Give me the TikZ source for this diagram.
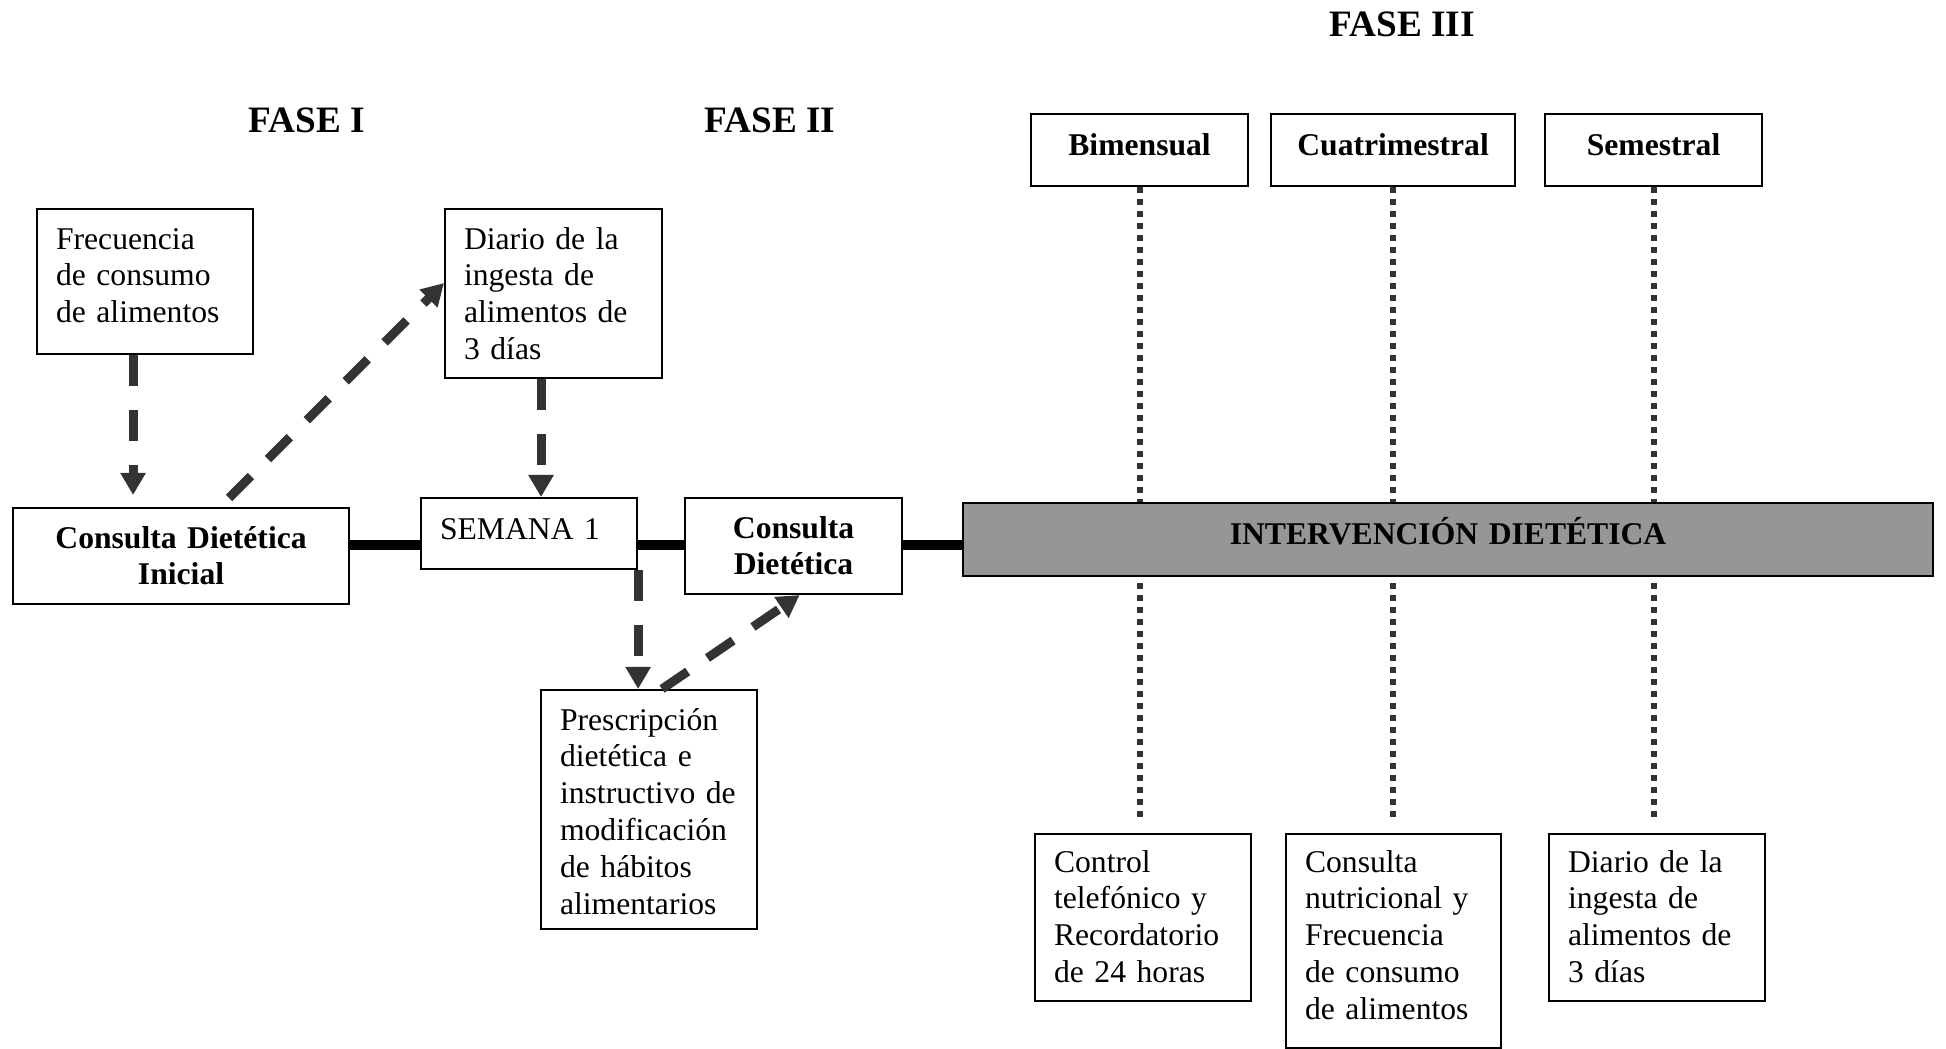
\documentclass[tikz,border=0pt]{standalone}
\usepackage{fontspec}
\setmainfont{Liberation Serif}
\usetikzlibrary{arrows.meta,positioning}

\definecolor{gris}{HTML}{333333}
\definecolor{barra}{HTML}{969696}

\tikzset{
  caja/.style={draw, line width=0.6pt, fill=white, anchor=north west, inner xsep=0.19cm, inner ysep=0pt,
    font=\fontsize{9}{10.5}\selectfont, align=left},
  cajanegrita/.style={caja, font=\fontsize{9}{10.5}\selectfont\bfseries, align=center},
  fase/.style={anchor=base, font=\fontsize{10.6}{12}\selectfont\bfseries},
  flecha/.style={draw=gris, line width=0.09cm, dash pattern=on 0.31cm off 0.24cm,
    -{Triangle[length=0.22cm, width=0.24cm]}},
  punteada/.style={draw=gris, line width=0.06cm, dash pattern=on 0.06cm off 0.06cm},
  linea/.style={draw=black, line width=0.105cm}
}

\begin{document}
\begin{tikzpicture}[scale=1]
  \useasboundingbox (0,0) rectangle (19.46,-10.49);

  \node[fase] (fase1) at (3.07,-1.33) {FASE I};
  \node[fase] (fase2) at (7.70,-1.33) {FASE II};
  \node[fase] (fase3) at (14.02,-0.37) {FASE III};

  \node[caja, text width=1.78cm, text height=0.40cm, text depth=1.05cm] (frec) at (0.36,-2.08)
    {Frecuencia\\de consumo\\de alimentos};
  \node[caja, text width=1.79cm, text height=0.40cm, text depth=1.29cm] (diario) at (4.44,-2.08)
    {Diario de la\\ingesta de\\alimentos de\\3 días};
  \node[cajanegrita, text width=2.98cm, text height=0.40cm, text depth=0.56cm] (inicial) at (0.12,-5.07)
    {Consulta Dietética\\Inicial};
  \node[caja, text width=1.78cm, text height=0.41cm, text depth=0.30cm] (semana) at (4.20,-4.97)
    {SEMANA 1};
  \node[cajanegrita, text width=1.79cm, text height=0.40cm, text depth=0.56cm] (consulta) at (6.84,-4.97)
    {Consulta\\Dietética};
  \node[caja, text width=1.78cm, text height=0.40cm, text depth=1.99cm] (presc) at (5.40,-6.89)
    {Prescripción\\dietética e\\instructivo de\\modificación\\de hábitos\\alimentarios};

  \node[cajanegrita, text width=1.79cm, text height=0.41cm, text depth=0.31cm] (bim) at (10.30,-1.13) {Bimensual};
  \node[cajanegrita, text width=2.06cm, text height=0.41cm, text depth=0.31cm] (cuatri) at (12.70,-1.13) {Cuatrimestral};
  \node[cajanegrita, text width=1.79cm, text height=0.41cm, text depth=0.31cm] (semes) at (15.44,-1.13) {Semestral};

  \node[caja, text width=1.78cm, text height=0.38cm, text depth=1.29cm] (control) at (10.34,-8.33)
    {Control\\telefónico y\\Recordatorio\\de 24 horas};
  \node[caja, text width=1.77cm, text height=0.38cm, text depth=1.76cm] (nutri) at (12.85,-8.33)
    {Consulta\\nutricional y\\Frecuencia\\de consumo\\de alimentos};
  \node[caja, text width=1.78cm, text height=0.38cm, text depth=1.29cm] (diario3) at (15.48,-8.33)
    {Diario de la\\ingesta de\\alimentos de\\3 días};

  \draw[punteada, shorten >=0.1cm] (bim.south) -- (bim.south |- control.north);
  \draw[punteada, shorten >=0.1cm] (cuatri.south) -- (cuatri.south |- nutri.north);
  \draw[punteada, shorten >=0.1cm] (semes.south) -- (semes.south |- diario3.north);

  \node[cajanegrita, fill=barra, text width=9.32cm, text height=0.41cm, text depth=0.32cm] (interv) at (9.62,-5.02)
    {INTERVENCIÓN DIETÉTICA};

  \coordinate (eje) at (0,-5.45);
  \draw[linea] (inicial.east |- eje) -- (semana.west |- eje);
  \draw[linea] (semana.east |- eje) -- (consulta.west |- eje);
  \draw[linea] (consulta.east |- eje) -- (interv.west |- eje);

  \draw[flecha, shorten >=0.12cm] ([xshift=-0.12cm]frec.south) -- ([xshift=-0.12cm]frec.south |- inicial.north);
  \draw[flecha] ([xshift=0.48cm, yshift=0.09cm]inicial.north) -- ([yshift=0.105cm]diario.west);
  \draw[flecha] ([xshift=-0.125cm]diario.south) -- ([xshift=-0.125cm]diario.south |- semana.north);
  \draw[flecha] (semana.south east) -- (semana.south east |- presc.north);
  \draw[flecha] ([xshift=0.13cm]presc.north) -- ([xshift=0.06cm]consulta.south);
\end{tikzpicture}
\end{document}
